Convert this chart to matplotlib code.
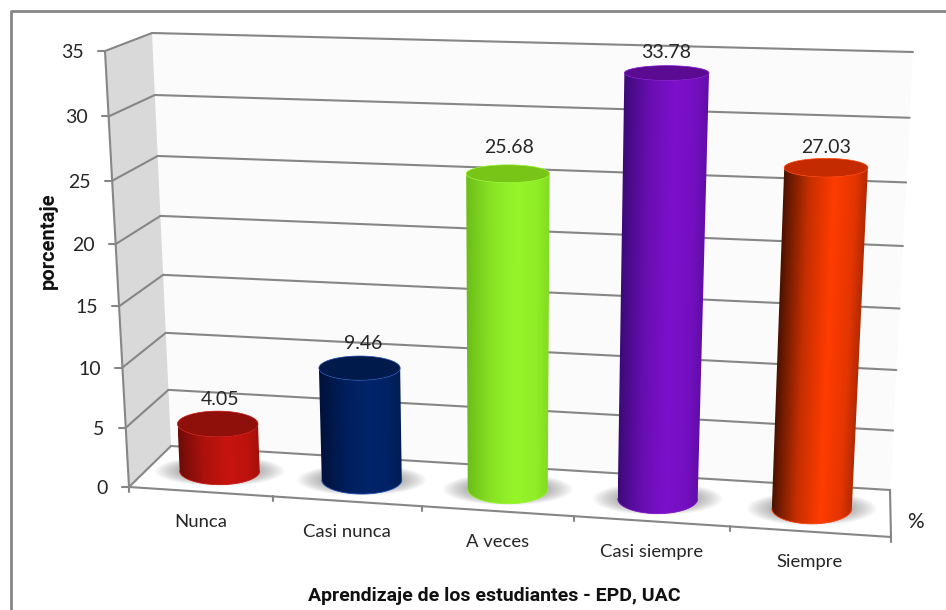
"""3D-style cylinder chart of student learning survey responses, on a pixel-sized canvas."""

import numpy as np
import matplotlib
matplotlib.use("Agg")
import matplotlib.pyplot as plt
from matplotlib.colors import to_rgb
from matplotlib.patches import Polygon

categories = ["Nunca", "Casi nunca", "A veces", "Casi siempre", "Siempre"]
values = [4.05, 9.46, 25.68, 33.78, 27.03]
y_ticks = [0, 5, 10, 15, 20, 25, 30, 35]

side_bright = ["#c8140f", "#01246a", "#96f52a", "#7d10cc", "#ff3c00"]
side_dark = ["#6e0c08", "#00113a", "#6cbc18", "#3c0a78", "#4a1200"]
top_color = ["#8f0f0a", "#001a4c", "#78c417", "#5a0b92", "#c42b00"]
rim_color = ["#c8140f", "#1f4fb0", "#96f52a", "#7d10cc", "#ff3c00"]
label_lift = [25, 25, 26, 21, 20]
label_shift = [2, 4, 1, -1, 0]

GRID = "#868686"
TEXT = "#262626"
YMAX = 35.0

# box corners in pixels: front/back, left/right, bottom/top
FLB, FRB = np.array([129.0, 487.0]), np.array([891.0, 537.0])
BLB, BRB = np.array([171.0, 446.0]), np.array([890.0, 490.0])
FLT, FRT = np.array([105.0, 51.0]), np.array([915.0, 75.0])
BLT, BRT = np.array([152.0, 33.0]), np.array([913.0, 52.0])


def warp(t, c):
    # perspective foreshortening along one axis
    return t / (t + c * (1 - t))


def project(u, v, value):
    """u, v in 0..1 along width/depth (already warped), value in axis units."""
    h = warp(float(value) / YMAX, 1.06)
    bottom = (1 - v) * ((1 - u) * FLB + u * FRB) + v * ((1 - u) * BLB + u * BRB)
    top = (1 - v) * ((1 - u) * FLT + u * FRT) + v * ((1 - u) * BLT + u * BRT)
    return bottom + h * (top - bottom)


def ellipse(center, ru, rv, value, t):
    # level disc: width taken along the u axis, depth only moves it vertically
    c = project(center, 0.5, value)
    across = (project(center + ru, 0.5, value) - project(center - ru, 0.5, value))[0] / 2
    depth = (project(center, 0.5 + rv, value) - project(center, 0.5 - rv, value))[1] / 2
    return c + np.column_stack([across * np.cos(t), depth * np.sin(t)])


def edge(ax, a, b, lw=1.5):
    ax.plot([a[0], b[0]], [a[1], b[1]], color=GRID, lw=lw, solid_capstyle="round", zorder=2)


plt.rcParams["font.family"] = ["Lato", "DejaVu Sans"]
fig = plt.figure(figsize=(9.46, 6.10), dpi=100)
ax = fig.add_axes([0, 0, 1, 1])
ax.set_xlim(0, 946)
ax.set_ylim(610, 0)
ax.autoscale(False)
ax.axis("off")

# outer chart frame, open on the right and at the bottom
ax.plot([10.5, 10.5, 946], [610, 10.5, 10.5], color=GRID, lw=2, zorder=1)

# walls and floor
ax.add_patch(Polygon([BLB, BLT, BRT, BRB], fc="#fbfbfb", ec="none", zorder=1))
ax.add_patch(Polygon([FLB, FLT, BLT, BLB], fc="#d9d9d9", ec="none", zorder=1))
floor = Polygon([FLB, BLB, BRB, FRB], fc="white", ec="none", zorder=1)
ax.add_patch(floor)

for tick in y_ticks:
    front, back, right = project(0, 0, tick), project(0, 1, tick), project(1, 1, tick)
    edge(ax, front, back)
    edge(ax, back, right)
    edge(ax, front, front + [-7, 0])
    ax.text(front[0] - 21, front[1] + 1.5, str(tick), ha="right", va="center",
            fontsize=14, color=TEXT)

edge(ax, FLB, FLT)
edge(ax, FLB, FRB)
edge(ax, BRB, FRB)
for k in range(6):
    p = project(warp(k / 5, 1.07), 0, 0)
    edge(ax, p, p + [0, 5])

RU, RV = 0.054, 0.33
angles = np.linspace(0, 2 * np.pi, 161)
front_half = np.linspace(0, np.pi, 81)
stops = [0, 0.08, 0.3, 0.6, 0.85, 1]
mix = [0, 0.2, 0.68, 1, 0.85, 0.55]

for i, val in enumerate(values):
    cu = warp((i + 0.5) / 5, 1.07)

    # soft floor shadow built from stacked translucent ellipses
    for k in np.linspace(1, 0, 14):
        shadow = Polygon(ellipse(cu, RU * (1 + 0.62 * k), RV * (0.7 + 0.4 * k), 0, angles),
                         fc="#404040", ec="none", alpha=0.03, zorder=3)
        ax.add_patch(shadow)
        shadow.set_clip_path(floor)

    # depth runs upward on screen, so a negative radius traces the near half
    base = ellipse(cu, RU, -RV, 0, front_half)[::-1]
    top = ellipse(cu, RU, -RV, val, front_half)[::-1]
    dark, bright = np.array(to_rgb(side_dark[i])), np.array(to_rgb(side_bright[i]))

    # side wall: shading follows the slanted silhouette, clipped to the outline
    outline = np.vstack([base, top[::-1]])
    x0, y0 = outline.min(axis=0)
    x1, y1 = outline.max(axis=0)
    xs = np.linspace(x0, x1, 300)
    ys = np.linspace(y0, y1, 200)
    frac = ((ys - top[0, 1]) / (base[0, 1] - top[0, 1]))[:, None]
    left = top[0, 0] + frac * (base[0, 0] - top[0, 0])
    right = top[-1, 0] + frac * (base[-1, 0] - top[-1, 0])
    s = np.clip((xs[None, :] - left) / (right - left), 0, 1)
    m = np.interp(s, stops, mix)[..., None]
    im = ax.imshow(dark + m * (bright - dark), extent=(x0, x1, y1, y0), origin="upper",
                   aspect="auto", interpolation="bilinear", zorder=4)
    im.set_clip_path(Polygon(outline, transform=ax.transData))

    ax.add_patch(Polygon(ellipse(cu, RU, RV, val, angles), fc=top_color[i],
                         ec=rim_color[i], lw=0.5, zorder=5))
    ax.plot(base[:, 0], base[:, 1], color=rim_color[i], lw=0.6, zorder=5)

    c = project(cu, 0.5, val)
    ax.text(c[0] + label_shift[i], c[1] - label_lift[i], f"{val:.2f}", ha="center", va="center",
            fontsize=14, color=TEXT, zorder=6)

    f = project(cu, 0, 0)
    ax.text(f[0], f[1] + 30.5, categories[i], ha="center", va="center",
            fontsize=13.3, color=TEXT, zorder=6)

ax.text(915, 522, "%", ha="center", va="center", fontsize=15, color=TEXT)

ax.text(494, 596, "Aprendizaje de los estudiantes - EPD, UAC", ha="center", va="center",
        fontsize=14, fontweight="bold", family="Roboto", color="#111111")
ax.text(48, 241, "porcentaje", rotation=90, ha="center", va="center",
        fontsize=14.5, fontweight="bold", family="Roboto", color="#111111")

fig.savefig("out.png", dpi=100)
